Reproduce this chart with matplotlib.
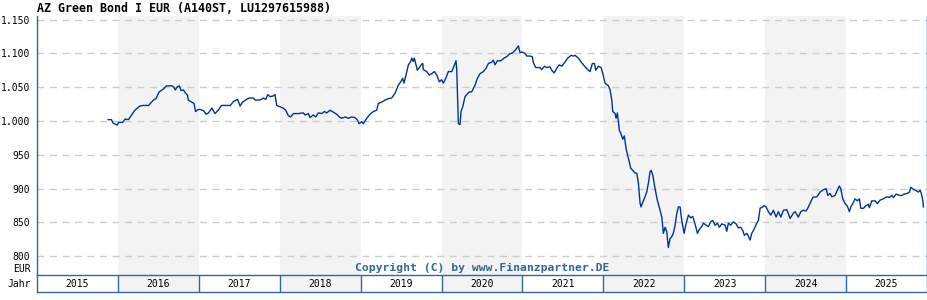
import matplotlib
matplotlib.use("Agg")
import matplotlib.pyplot as plt
from matplotlib.patches import Rectangle

title = "AZ Green Bond I EUR (A140ST, LU1297615988)"
years = [2015, 2016, 2017, 2018, 2019, 2020, 2021, 2022, 2023, 2024, 2025]
shaded_years = [2016, 2018, 2020, 2022, 2024]
y_ticks = [800, 850, 900, 950, 1000, 1050, 1100, 1150]
y_tick_labels = ["800", "850", "900", "950", "1.000", "1.050", "1.100", "1.150"]

dates = [
    2015.88, 2015.92, 2015.94, 2015.99, 2016.01, 2016.06, 2016.09, 2016.13, 2016.17, 2016.21,
    2016.27, 2016.31, 2016.38, 2016.40, 2016.44, 2016.47, 2016.51, 2016.56, 2016.60, 2016.67,
    2016.69, 2016.71, 2016.73, 2016.76, 2016.78, 2016.81, 2016.83, 2016.86, 2016.87, 2016.91,
    2016.94, 2016.96, 2016.99, 2017.02, 2017.06, 2017.09, 2017.12, 2017.16, 2017.20, 2017.24,
    2017.28, 2017.34, 2017.39, 2017.43, 2017.48, 2017.51, 2017.54, 2017.59, 2017.62, 2017.674,
    2017.695, 2017.756, 2017.797, 2017.827, 2017.852, 2017.880, 2017.921, 2017.942, 2017.963, 2018.004,
    2018.044, 2018.074, 2018.106, 2018.136, 2018.168, 2018.230, 2018.292, 2018.313, 2018.354, 2018.375,
    2018.415, 2018.445, 2018.477, 2018.519, 2018.551, 2018.581, 2018.622, 2018.663, 2018.705, 2018.737,
    2018.766, 2018.807, 2018.848, 2018.890, 2018.931, 2018.964, 2018.980, 2019.014, 2019.033, 2019.075,
    2019.116, 2019.157, 2019.199, 2019.219, 2019.261, 2019.302, 2019.342, 2019.384, 2019.425, 2019.466,
    2019.496, 2019.520, 2019.536, 2019.561, 2019.590, 2019.619, 2019.632, 2019.651, 2019.664, 2019.685,
    2019.701, 2019.726, 2019.755, 2019.768, 2019.775, 2019.817, 2019.849, 2019.879, 2019.911, 2019.941,
    2019.973, 2020.002, 2020.022, 2020.052, 2020.084, 2020.126, 2020.154, 2020.179, 2020.188, 2020.200,
    2020.208, 2020.229, 2020.241, 2020.262, 2020.290, 2020.319, 2020.344, 2020.373, 2020.414, 2020.443,
    2020.476, 2020.517, 2020.550, 2020.579, 2020.621, 2020.640, 2020.661, 2020.690, 2020.732, 2020.773,
    2020.806, 2020.838, 2020.880, 2020.921, 2020.950, 2020.970, 2020.991, 2021.032, 2021.053, 2021.094,
    2021.122, 2021.135, 2021.164, 2021.217, 2021.238, 2021.271, 2021.300, 2021.341, 2021.362, 2021.391,
    2021.424, 2021.452, 2021.486, 2021.518, 2021.560, 2021.601, 2021.629, 2021.650, 2021.691, 2021.733,
    2021.774, 2021.815, 2021.836, 2021.864, 2021.889, 2021.906, 2021.938, 2021.972, 2021.993, 2022.021,
    2022.062, 2022.083, 2022.104, 2022.116, 2022.145, 2022.157, 2022.173, 2022.185, 2022.198, 2022.215,
    2022.240, 2022.259, 2022.281, 2022.309, 2022.339, 2022.363, 2022.392, 2022.413, 2022.433, 2022.454,
    2022.466, 2022.487, 2022.515, 2022.536, 2022.556, 2022.577, 2022.590, 2022.611, 2022.639, 2022.667,
    2022.701, 2022.722, 2022.742, 2022.763, 2022.784, 2022.803, 2022.824, 2022.845, 2022.865, 2022.886,
    2022.907, 2022.927, 2022.948, 2022.969, 2022.998, 2023.022, 2023.051, 2023.080, 2023.105, 2023.133,
    2023.162, 2023.187, 2023.216, 2023.236, 2023.269, 2023.298, 2023.327, 2023.352, 2023.381, 2023.409,
    2023.434, 2023.464, 2023.505, 2023.525, 2023.545, 2023.575, 2023.607, 2023.640, 2023.669, 2023.698,
    2023.723, 2023.743, 2023.773, 2023.792, 2023.813, 2023.834, 2023.863, 2023.888, 2023.916, 2023.937,
    2023.970, 2023.986, 2024.011, 2024.040, 2024.069, 2024.102, 2024.135, 2024.163, 2024.193, 2024.225,
    2024.267, 2024.308, 2024.349, 2024.370, 2024.410, 2024.440, 2024.472, 2024.506, 2024.534, 2024.589,
    2024.638, 2024.679, 2024.712, 2024.753, 2024.774, 2024.802, 2024.823, 2024.864, 2024.892, 2024.917,
    2024.934, 2024.959, 2024.988, 2025.016, 2025.041, 2025.058, 2025.083, 2025.111, 2025.140, 2025.164,
    2025.182, 2025.214, 2025.247, 2025.276, 2025.288, 2025.318, 2025.358, 2025.387, 2025.420, 2025.461,
    2025.503, 2025.535, 2025.565, 2025.585, 2025.618, 2025.659, 2025.688, 2025.717, 2025.757, 2025.783,
    2025.800, 2025.832, 2025.866, 2025.894, 2025.915, 2025.930, 2025.948, 2025.956,
]

prices = [
    1002, 1002, 997, 994, 998, 998, 1003, 1002, 1009, 1016,
    1022, 1023, 1023, 1026, 1031, 1033, 1043, 1047, 1052, 1052,
    1050, 1046, 1050, 1052, 1045, 1046, 1042, 1038, 1031, 1028,
    1026, 1014, 1017, 1017, 1015, 1010, 1012, 1019, 1011, 1016,
    1023, 1023, 1023, 1029, 1032, 1022, 1028, 1032, 1034, 1034,
    1031, 1031, 1034, 1032, 1039, 1036, 1037, 1039, 1023, 1021,
    1019, 1016, 1008, 1006, 1011, 1011, 1012, 1009, 1011, 1005,
    1009, 1006, 1012, 1011, 1014, 1012, 1016, 1013, 1010, 1006,
    1004, 1006, 1004, 1006, 1005, 1001, 996, 999, 996, 1004,
    1010, 1014, 1016, 1026, 1028, 1031, 1033, 1034, 1041, 1053,
    1058, 1063, 1056, 1068, 1083, 1088, 1093, 1088, 1093, 1083,
    1075, 1079, 1084, 1085, 1076, 1073, 1068, 1070, 1073, 1068,
    1058, 1061, 1056, 1063, 1073, 1073, 1081, 1089, 1075, 1028,
    996, 995, 1014, 1021, 1036, 1040, 1043, 1043, 1053, 1063,
    1070, 1073, 1078, 1085, 1087, 1090, 1083, 1089, 1089, 1093,
    1095, 1099, 1101, 1106, 1111, 1101, 1102, 1100, 1096, 1096,
    1095, 1086, 1079, 1079, 1076, 1081, 1079, 1080, 1075, 1071,
    1078, 1083, 1081, 1086, 1093, 1097, 1096, 1097, 1093, 1086,
    1080, 1075, 1073, 1085, 1085, 1075, 1081, 1079, 1070, 1056,
    1052, 1046, 1031, 1014, 1011, 1004, 1012, 999, 986, 982,
    973, 978, 959, 945, 930, 927, 923, 923, 908, 878,
    873, 880, 888, 895, 908, 925, 927, 920, 900, 883,
    868, 858, 834, 843, 836, 813, 826, 829, 834, 846,
    863, 873, 873, 853, 834, 848, 861, 857, 859, 848,
    834, 840, 844, 849, 846, 844, 851, 853, 846, 849,
    843, 848, 846, 837, 849, 846, 851, 848, 842, 843,
    838, 831, 834, 830, 824, 834, 840, 847, 853, 871,
    873, 875, 873, 866, 861, 868, 858, 866, 858, 868,
    869, 856, 864, 866, 858, 866, 868, 867, 873, 887,
    888, 895, 898, 900, 890, 893, 888, 890, 898, 904,
    900, 885, 878, 874, 866, 873, 878, 885, 882, 885,
    871, 871, 875, 877, 872, 882, 882, 878, 883, 885,
    888, 887, 890, 887, 892, 890, 890, 892, 893, 895,
    902, 899, 897, 895, 898, 893, 883, 873,
]

n = min(len(dates), len(prices))
dates = dates[:n]
prices = prices[:n]

W, H = 928, 300
fig = plt.figure(figsize=(W / 100, H / 100), dpi=100)
fig.patch.set_facecolor("white")

frame_color = "#336699"
band_color = "#f3f3f3"
line_color = "#003399"
mono = "DejaVu Sans Mono"
fs = 7.0

x0, x1 = 2015.0, 2026.0
left_px, right_px = 37, 927
top_px, bottom_px = 16, 275
row_bottom_px = 292

ax = fig.add_axes([left_px / W, 1 - bottom_px / H, (right_px - left_px) / W, (bottom_px - top_px) / H])
ax.set_xlim(x0, x1)
ax.set_ylim(772.4, 1155.2)
for yr in shaded_years:
    ax.axvspan(yr, yr + 1, color=band_color, lw=0, zorder=0)
for v in y_ticks:
    ax.axhline(v, color="#cccccc", lw=1, ls=(0, (5, 4)), zorder=1)
ax.plot(dates, prices, color=line_color, lw=1.0, zorder=3)
ax.set_xticks([])
ax.set_yticks(y_ticks)
ax.set_yticklabels(y_tick_labels, fontfamily=mono, fontsize=fs)
ax.tick_params(axis="y", length=0, pad=5)
for s in ["top", "bottom"]:
    ax.spines[s].set_visible(False)
for s in ["left", "right"]:
    ax.spines[s].set_color(frame_color)
    ax.spines[s].set_linewidth(1)

ax.text(-0.0065, 6.5 / (bottom_px - top_px), "EUR", transform=ax.transAxes,
        ha="right", va="center", fontfamily=mono, fontsize=fs)
ax.text(0.5, 7.0 / (bottom_px - top_px), "Copyright (C) by www.Finanzpartner.DE",
        transform=ax.transAxes, ha="center", va="center", fontfamily=mono,
        fontsize=8.2, fontweight="bold", color=frame_color)

fig.text(left_px / W, 1 - 8 / H, title, ha="left", va="center", fontfamily=mono,
         fontsize=8.4, fontweight="bold")

# year row
axr = fig.add_axes([left_px / W, 1 - row_bottom_px / H, (right_px - left_px) / W,
                    (row_bottom_px - bottom_px) / H])
axr.set_xlim(x0, x1)
axr.set_ylim(0, 1)
axr.set_xticks([])
axr.set_yticks([])
for yr in years:
    if yr in shaded_years:
        axr.add_patch(Rectangle((yr, 0), 1, 1, color=band_color, lw=0, zorder=0))
    axr.text(yr + 0.5, 0.45, str(yr), ha="center", va="center", fontfamily=mono, fontsize=fs)
    if yr > years[0]:
        axr.axvline(yr, color=frame_color, lw=1)
for s in axr.spines.values():
    s.set_color(frame_color)
    s.set_linewidth(1)
axr.text(-0.0065, 0.45, "Jahr", transform=axr.transAxes, ha="right", va="center",
         fontfamily=mono, fontsize=fs)

fig.savefig("out.png", dpi=100)
